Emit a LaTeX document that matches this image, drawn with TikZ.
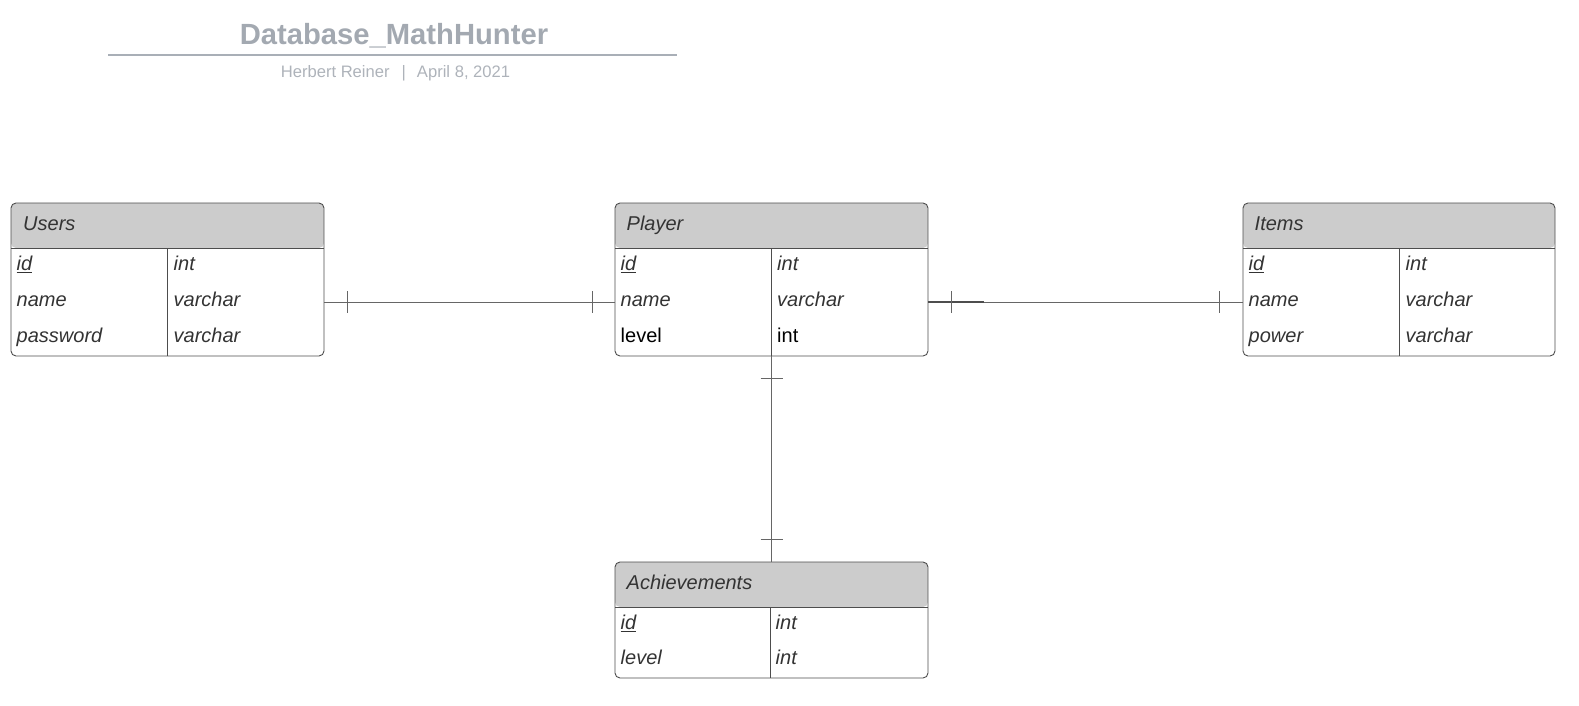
\documentclass[tikz,border=0pt]{standalone}
\usepackage{fontspec}
\setmainfont{Liberation Sans}
\usetikzlibrary{calc}
\definecolor{titlegray}{HTML}{A3A9B1}
\definecolor{subgray}{HTML}{AEB3BA}
\definecolor{rulegray}{HTML}{A9AFB7}
\definecolor{headfill}{HTML}{CCCCCC}
\definecolor{bordercol}{HTML}{4D4D4D}
\definecolor{txtcol}{HTML}{333333}
\definecolor{linkcol}{HTML}{666666}
\tikzset{
  tbl/.style={draw=bordercol, line width=0.9pt, rounded corners=5pt, anchor=north west,
    inner sep=0pt, outer sep=0pt,
    path picture={\fill[headfill] (path picture bounding box.north west) rectangle ([yshift=-45pt]path picture bounding box.north east);}},
  rowbox/.style={anchor=north west, inner sep=0pt, outer sep=0pt, minimum height=36pt},
  sepline/.style={draw=bordercol, line width=0.9pt},
  fieldtxt/.style={anchor=base west, inner sep=0pt, text=txtcol, font=\fontsize{20}{23}\selectfont\itshape},
  plaintxt/.style={anchor=base west, inner sep=0pt, text=black, font=\fontsize{20}{23}\selectfont},
  link/.style={draw=linkcol, line width=0.9pt},
  tickmark/.style={draw=linkcol, line width=0.9pt},
}
\begin{document}
\begin{tikzpicture}[x=1pt,y=-1pt]
\useasboundingbox (0,0) rectangle (1579,706);

% title block
\node[anchor=base, inner sep=0pt, text=titlegray, font=\fontsize{29.2}{34}\selectfont\bfseries] (title) at (394,45) {Database\_MathHunter};
\draw[rulegray, line width=2pt] (108,55) -- (677,55);
\node[anchor=base, inner sep=0pt, text=subgray, font=\fontsize{16.6}{19}\selectfont] (subtitle) at (395.5,78) {Herbert Reiner\hspace{12pt}|\hspace{11pt}April 8, 2021};

% ---------- Users ----------
\node[tbl, minimum width=313pt, minimum height=153pt] (users) at (11,203) {};
\node[rowbox, minimum width=313pt, minimum height=45pt] (users-h) at (users.north west) {};
\node[rowbox, minimum width=313pt] (users-r1) at (users-h.south west) {};
\node[rowbox, minimum width=313pt] (users-r2) at (users-r1.south west) {};
\node[rowbox, minimum width=313pt] (users-r3) at (users-r2.south west) {};
\coordinate (users-div) at ($(users-h.south west)+(156.5,0)$);
\draw[sepline] (users-h.south west) -- (users-h.south east);
\draw[sepline] (users-div) -- (users-div |- users.south);
\node[fieldtxt] (users-t) at ($(users-h.west)+(12,4.5)$) {Users};
\node[fieldtxt] (users-n1) at ($(users-r1.west)+(5.5,4.5)$) {\underline{id}};
\node[fieldtxt] (users-y1) at ($(users-r1.west -| users-div)+(6,4.5)$) {int};
\node[fieldtxt] (users-n2) at ($(users-r2.west)+(5.5,4.5)$) {name};
\node[fieldtxt] (users-y2) at ($(users-r2.west -| users-div)+(6,4.5)$) {varchar};
\node[fieldtxt] (users-n3) at ($(users-r3.west)+(5.5,4.5)$) {password};
\node[fieldtxt] (users-y3) at ($(users-r3.west -| users-div)+(6,4.5)$) {varchar};

% ---------- Player ----------
\node[tbl, minimum width=313pt, minimum height=153pt] (player) at (615,203) {};
\node[rowbox, minimum width=313pt, minimum height=45pt] (player-h) at (player.north west) {};
\node[rowbox, minimum width=313pt] (player-r1) at (player-h.south west) {};
\node[rowbox, minimum width=313pt] (player-r2) at (player-r1.south west) {};
\node[rowbox, minimum width=313pt] (player-r3) at (player-r2.south west) {};
\coordinate (player-div) at ($(player-h.south west)+(156.5,0)$);
\draw[sepline] (player-h.south west) -- (player-h.south east);
\draw[sepline] (player-div) -- (player-div |- player.south);
\node[fieldtxt] (player-t) at ($(player-h.west)+(11.5,4.5)$) {Player};
\node[fieldtxt] (player-n1) at ($(player-r1.west)+(5.5,4.5)$) {\underline{id}};
\node[fieldtxt] (player-y1) at ($(player-r1.west -| player-div)+(5.5,4.5)$) {int};
\node[fieldtxt] (player-n2) at ($(player-r2.west)+(5.5,4.5)$) {name};
\node[fieldtxt] (player-y2) at ($(player-r2.west -| player-div)+(5.5,4.5)$) {varchar};
\node[plaintxt] (player-n3) at ($(player-r3.west)+(5.5,4.5)$) {level};
\node[plaintxt] (player-y3) at ($(player-r3.west -| player-div)+(5.5,4.5)$) {int};

% ---------- Items ----------
\node[tbl, minimum width=312pt, minimum height=153pt] (items) at (1243,203) {};
\node[rowbox, minimum width=312pt, minimum height=45pt] (items-h) at (items.north west) {};
\node[rowbox, minimum width=312pt] (items-r1) at (items-h.south west) {};
\node[rowbox, minimum width=312pt] (items-r2) at (items-r1.south west) {};
\node[rowbox, minimum width=312pt] (items-r3) at (items-r2.south west) {};
\coordinate (items-div) at ($(items-h.south west)+(156.5,0)$);
\draw[sepline] (items-h.south west) -- (items-h.south east);
\draw[sepline] (items-div) -- (items-div |- items.south);
\node[fieldtxt] (items-t) at ($(items-h.west)+(11.5,4.5)$) {Items};
\node[fieldtxt] (items-n1) at ($(items-r1.west)+(5.5,4.5)$) {\underline{id}};
\node[fieldtxt] (items-y1) at ($(items-r1.west -| items-div)+(6,4.5)$) {int};
\node[fieldtxt] (items-n2) at ($(items-r2.west)+(5.5,4.5)$) {name};
\node[fieldtxt] (items-y2) at ($(items-r2.west -| items-div)+(6,4.5)$) {varchar};
\node[fieldtxt] (items-n3) at ($(items-r3.west)+(5.5,4.5)$) {power};
\node[fieldtxt] (items-y3) at ($(items-r3.west -| items-div)+(6,4.5)$) {varchar};

% ---------- Achievements ----------
\node[tbl, minimum width=313pt, minimum height=116pt] (ach) at (615,562) {};
\node[rowbox, minimum width=313pt, minimum height=45pt] (ach-h) at (ach.north west) {};
\node[rowbox, minimum width=313pt, minimum height=35.5pt] (ach-r1) at (ach-h.south west) {};
\node[rowbox, minimum width=313pt, minimum height=35.5pt] (ach-r2) at (ach-r1.south west) {};
\coordinate (ach-div) at ($(ach-h.south west)+(155,0)$);
\draw[sepline] (ach-h.south west) -- (ach-h.south east);
\draw[sepline] (ach-div) -- (ach-div |- ach.south);
\node[fieldtxt] (ach-t) at ($(ach-h.west)+(11.5,4.5)$) {Achievements};
\node[fieldtxt] (ach-n1) at ($(ach-r1.west)+(5.5,4.5)$) {\underline{id}};
\node[fieldtxt] (ach-y1) at ($(ach-r1.west -| ach-div)+(5.5,4.5)$) {int};
\node[fieldtxt] (ach-n2) at ($(ach-r2.west)+(5.5,4.5)$) {level};
\node[fieldtxt] (ach-y2) at ($(ach-r2.west -| ach-div)+(5.5,4.5)$) {int};

% ---------- connectors ----------
\draw[link] (users-r2.east) -- (player-r2.west);
\draw[tickmark] ($(users-r2.east)+(23.5,-11)$) -- ++(0,22);
\draw[tickmark] ($(player-r2.west)+(-23,-11)$) -- ++(0,22);

\draw[link] (player-r2.east) -- (items-r2.west);
\draw[draw=bordercol, line width=1.2pt] (player-r2.east) -- ++(56,0);
\draw[tickmark] ($(player-r2.east)+(23.5,-11)$) -- ++(0,22);
\draw[tickmark] ($(items-r2.west)+(-24,-11)$) -- ++(0,22);

\coordinate (pa-top) at (player-div |- player.south);
\coordinate (pa-bot) at (player-div |- ach.north);
\draw[link] (pa-top) -- (pa-bot);
\draw[tickmark] ($(pa-top)+(-11,22)$) -- ++(22,0);
\draw[tickmark] ($(pa-bot)+(-11,-23)$) -- ++(22,0);
\end{tikzpicture}
\end{document}
